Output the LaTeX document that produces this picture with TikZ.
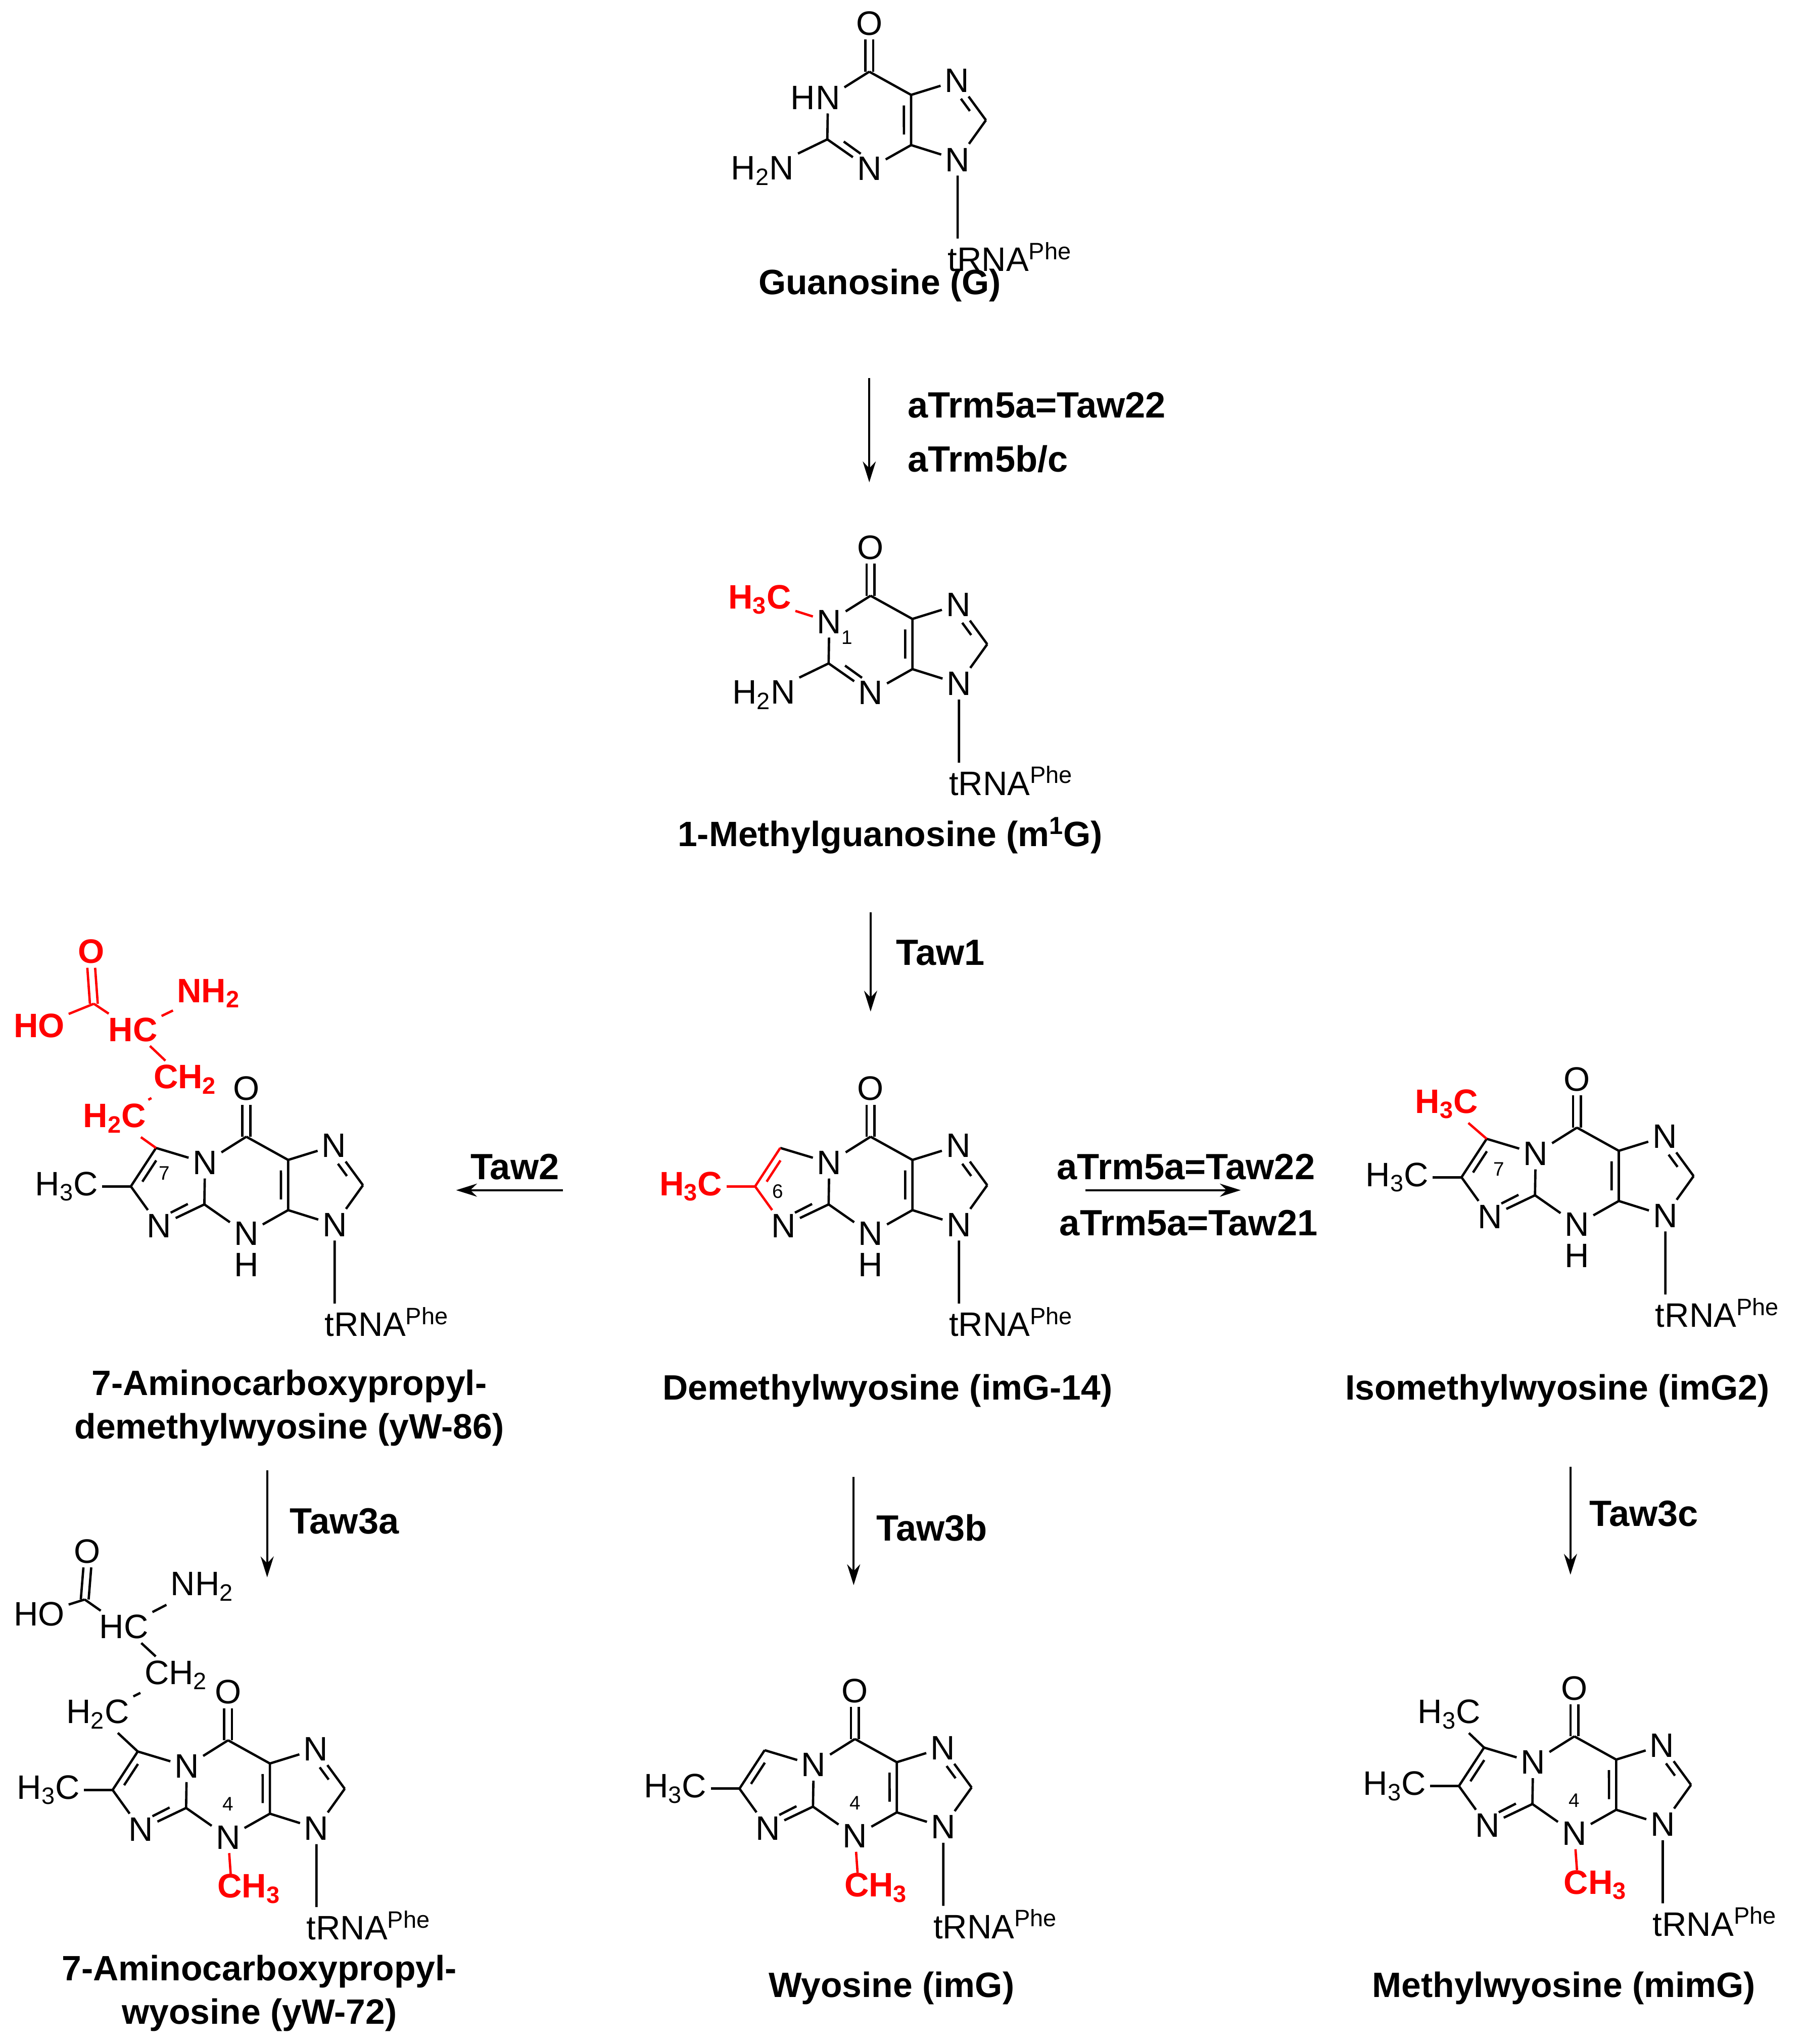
\documentclass[tikz,border=0pt]{standalone}
\usepackage{fontspec}
\setmainfont{Liberation Sans}
\usetikzlibrary{calc,arrows.meta}
\tikzset{
 bond/.style={line width=1.8pt},
 atm/.style={font=\fontsize{26}{30}\selectfont, inner sep=3pt},
 rb/.style={atm, red, font=\fontsize{26}{30}\selectfont\bfseries},
 nm/.style={font=\fontsize{27}{33}\selectfont\bfseries, align=center},
 enz/.style={font=\fontsize{28}{34}\selectfont\bfseries},
 num/.style={font=\fontsize{15}{17}\selectfont, inner sep=0pt},
 arr/.style={-{Stealth[length=16pt,width=10pt]}, line width=1.6pt}
}
\newcommand\dbl[5][]{\path ($(#2)!#5!(#3)$) coordinate (tA) ($(#3)!#5!(#2)$) coordinate (tB);
 \draw[bond,#1] ($(tA)!6pt!(#4)$) -- ($(tB)!6pt!(#4)$);}
\newcommand\core[3]{%
\begin{scope}[shift={(#2,#3)}]
\coordinate (#1c) at (0,0);
\node[atm] (#1O) at (0,-37) {O};
\coordinate (#1a) at (32.1,17.8);
\coordinate (#1b) at (32.1,56.3);
\node[atm] (#1N7) at (67.3,6.9) {N};
\coordinate (#1c8) at (89.5,37.2);
\node[atm] (#1N9) at (67.8,67.5) {N};
\node[atm] (#1Nb) at (-31.7,19.9) {N};
\coordinate (#1c2) at (-32.2,51.9);
\node[atm] (#1N4) at (0,74.4) {N};
\coordinate (#1R) at (57.8,37.1);
\coordinate (#1S) at (0,36.7);
\coordinate (#1L) at (-57.7,37.4);
\coordinate (#1c6) at (-88.6,38.1);
\coordinate (#1c7) at (-69.3,8.6);
\coordinate (#1te) at (67.8,128);
\node[atm,anchor=west,inner sep=0pt] (#1t) at (60,142) {tRNA\textsuperscript{Phe}};
\end{scope}
\draw[bond] (#1c)--(#1Nb) (#1c)--(#1a) (#1a)--(#1b) (#1a)--(#1N7) (#1N7)--(#1c8) (#1c8)--(#1N9) (#1N9)--(#1b) (#1b)--(#1N4) (#1N4)--(#1c2) (#1c2)--(#1Nb) (#1N9)--(#1te);
\draw[bond] ($(#1c)+(-3,0)$) -- ($(#1O.south)+(-3,0)$) ($(#1c)+(3,0)$) -- ($(#1O.south)+(3,0)$);
\dbl{#1a}{#1b}{#1S}{0.15}
\dbl{#1N7}{#1c8}{#1R}{0.3}
}
\newcommand\imid[2]{%
\node[atm] (#1Ni) at ($(#1c)+(-66.8,68.4)$) {N};
\draw[bond] (#1c2)--(#1Ni) (#1c7)--(#1Nb);
\draw[bond,#2] (#1Ni)--(#1c6) (#1c6)--(#1c7);
\dbl{#1c2}{#1Ni}{#1L}{0.25}
\dbl[#2]{#1c6}{#1c7}{#1L}{0.15}
}
% chain: prefix, color, style; positions given as coordinates #1p1..#1p7 defined beforehand
\newcommand\chain[3]{%
\node[#3] (#1H2C) at (#1p1) {H\textsubscript{2}C};
\node[#3] (#1CH2) at (#1p2) {CH\textsubscript{2}};
\node[#3] (#1HC) at (#1p3) {HC};
\node[#3] (#1NH2) at (#1p4) {NH\textsubscript{2}};
\node[#3] (#1Oc) at (#1p6) {O};
\node[#3] (#1HO) at (#1p7) {HO};
\draw[bond,#2] (#1c7)--(#1H2C) (#1H2C)--(#1CH2) (#1CH2)--(#1HC) (#1HC)--(#1NH2) (#1HC)--(#1p5) (#1p5)--(#1HO);
\draw[bond,#2] ($(#1p5)+(-3,0)$) -- ($(#1Oc.south)+(-3,0)$) ($(#1p5)+(3,0)$) -- ($(#1Oc.south)+(3,0)$);
}
\begin{document}
\begin{tikzpicture}[x=1pt,y=-1pt]
\useasboundingbox[fill=white] (0,0) rectangle (1384,1568);
% Guanosine
\core{g}{667}{55}
\node[atm,anchor=east,inner sep=0pt] (gH) at ($(gNb.west)+(3,0)$) {H};
\node[atm] (gNH2) at ($(gc)+(-82,76)$) {H\textsubscript{2}N};
\draw[bond] (gc2)--(gNH2);
\dbl{gc2}{gN4}{gS}{0.25}
\node[nm] (gname) at (675,219) {Guanosine (G)};
% m1G
\core{m}{668}{457}
\node[atm] (mNH2) at ($(mc)+(-82,76)$) {H\textsubscript{2}N};
\draw[bond] (mc2)--(mNH2);
\dbl{mc2}{mN4}{mS}{0.25}
\node[rb] (mMe) at ($(mc)+(-85,3)$) {H\textsubscript{3}C};
\draw[bond,red] (mMe)--(mNb);
\node[num] (m1) at ($(mc)+(-18,32)$) {1};
\node[nm] (mname) at (683,641) {1-Methylguanosine (m\textsuperscript{1}G)};
% Demethylwyosine
\core{d}{668}{872}
\imid{d}{red}
\node[rb,anchor=east] (dMe) at ($(dc6)+(-22,0)$) {H\textsubscript{3}C};
\draw[bond,red] (dMe)--(dc6);
\node[atm] (dH) at ($(dN4)+(0,24)$) {H};
\node[num] (d6) at ($(dc)+(-71,42)$) {6};
\node[nm] (dname) at (681,1067) {Demethylwyosine (imG-14)};
% Isomethylwyosine
\core{i}{1210}{865}
\imid{i}{black}
\node[atm,anchor=east] (iMe) at ($(ic6)+(-22,0)$) {H\textsubscript{3}C};
\draw[bond] (iMe)--(ic6);
\node[rb] (iMe2) at ($(ic)+(-100,-18)$) {H\textsubscript{3}C};
\draw[bond,red] (ic7)--(iMe2);
\node[atm] (iH) at ($(iN4)+(0,24)$) {H};
\node[num] (i7) at ($(ic)+(-60,32)$) {7};
\node[nm] (iname) at (1195,1067) {Isomethylwyosine (imG2)};
% yW-86
\core{y}{189}{872}
\imid{y}{black}
\node[atm,anchor=east] (yMe) at ($(yc6)+(-22,0)$) {H\textsubscript{3}C};
\draw[bond] (yMe)--(yc6);
\node[atm] (yH) at ($(yN4)+(0,24)$) {H};
\node[num] (y7) at ($(yc)+(-63,28)$) {7};
\coordinate (yp1) at ($(yc)+(-101,-14)$);
\coordinate (yp2) at ($(yc)+(-47,-44)$);
\coordinate (yp3) at ($(yc)+(-87,-82)$);
\coordinate (yp4) at ($(yc)+(-29,-110)$);
\coordinate (yp5) at ($(yc)+(-117,-102)$);
\coordinate (yp6) at ($(yc)+(-119,-142)$);
\coordinate (yp7) at ($(yc)+(-159,-85)$);
\chain{y}{red}{rb}
\node[nm] (yname) at (222,1080) {7-Aminocarboxypropyl-\\demethylwyosine (yW-86)};
% yW-72
\core{w}{175}{1335}
\imid{w}{black}
\node[atm,anchor=east] (wMe) at ($(wc6)+(-22,0)$) {H\textsubscript{3}C};
\draw[bond] (wMe)--(wc6);
\node[rb] (wMe4) at ($(wc)+(16,114)$) {CH\textsubscript{3}};
\coordinate (wMeT) at ($(wMe4.north)+(-14,3)$);
\draw[bond,red] (wN4)--(wMeT);
\node[num] (w4) at ($(wc)+(0,49)$) {4};
\coordinate (wp1) at ($(wc)+(-100,-20)$);
\coordinate (wp2) at ($(wc)+(-40,-50)$);
\coordinate (wp3) at ($(wc)+(-80,-87)$);
\coordinate (wp4) at ($(wc)+(-20,-118)$);
\coordinate (wp5) at ($(wc)+(-110,-108)$);
\coordinate (wp6) at ($(wc)+(-108,-145)$);
\coordinate (wp7) at ($(wc)+(-145,-97)$);
\chain{w}{black}{atm}
\node[nm] (wname) at (199,1529) {7-Aminocarboxypropyl-\\wyosine (yW-72)};
% Wyosine
\core{o}{656}{1334}
\imid{o}{black}
\node[atm,anchor=east] (oMe) at ($(oc6)+(-22,0)$) {H\textsubscript{3}C};
\draw[bond] (oMe)--(oc6);
\node[rb] (oMe4) at ($(oc)+(16,114)$) {CH\textsubscript{3}};
\coordinate (oMeT) at ($(oMe4.north)+(-14,3)$);
\draw[bond,red] (oN4)--(oMeT);
\node[num] (o4) at ($(oc)+(0,49)$) {4};
\node[nm] (oname) at (684,1525) {Wyosine (imG)};
% Methylwyosine
\core{t}{1208}{1332}
\imid{t}{black}
\node[atm,anchor=east] (tMe) at ($(tc6)+(-22,0)$) {H\textsubscript{3}C};
\draw[bond] (tMe)--(tc6);
\node[atm] (tMe2) at ($(tc)+(-96,-17)$) {H\textsubscript{3}C};
\draw[bond] (tc7)--(tMe2);
\node[rb] (tMe4) at ($(tc)+(16,114)$) {CH\textsubscript{3}};
\coordinate (tMeT) at ($(tMe4.north)+(-14,3)$);
\draw[bond,red] (tN4)--(tMeT);
\node[num] (t4) at ($(tc)+(0,49)$) {4};
\node[nm] (tname) at (1200,1525) {Methylwyosine (mimG)};
% arrows
\coordinate (a1s) at (667,290); \coordinate (a1e) at (667,370);
\draw[arr] (a1s)--(a1e);
\node[enz,anchor=west] (e1) at (693,311) {aTrm5a=Taw22};
\node[enz,anchor=west] (e2) at (693,352) {aTrm5b/c};
\coordinate (a2s) at (668,700); \coordinate (a2e) at (668,776);
\draw[arr] (a2s)--(a2e);
\node[enz,anchor=west] (e3) at (684,731) {Taw1};
\coordinate (a3s) at (432,913); \coordinate (a3e) at (350,913);
\draw[arr] (a3s)--(a3e);
\node[enz] (e4) at (395,895) {Taw2};
\coordinate (a4s) at (833,913); \coordinate (a4e) at (952,913);
\draw[arr] (a4s)--(a4e);
\node[enz] (e5) at (910,895) {aTrm5a=Taw22};
\node[enz] (e6) at (912,938) {aTrm5a=Taw21};
\coordinate (a5s) at (205,1128); \coordinate (a5e) at (205,1210);
\draw[arr] (a5s)--(a5e);
\node[enz,anchor=west] (e7) at (219,1167) {Taw3a};
\coordinate (a6s) at (655,1133); \coordinate (a6e) at (655,1216);
\draw[arr] (a6s)--(a6e);
\node[enz,anchor=west] (e8) at (669,1172) {Taw3b};
\coordinate (a7s) at (1205,1125); \coordinate (a7e) at (1205,1208);
\draw[arr] (a7s)--(a7e);
\node[enz,anchor=west] (e9) at (1216,1161) {Taw3c};
\end{tikzpicture}
\end{document}
